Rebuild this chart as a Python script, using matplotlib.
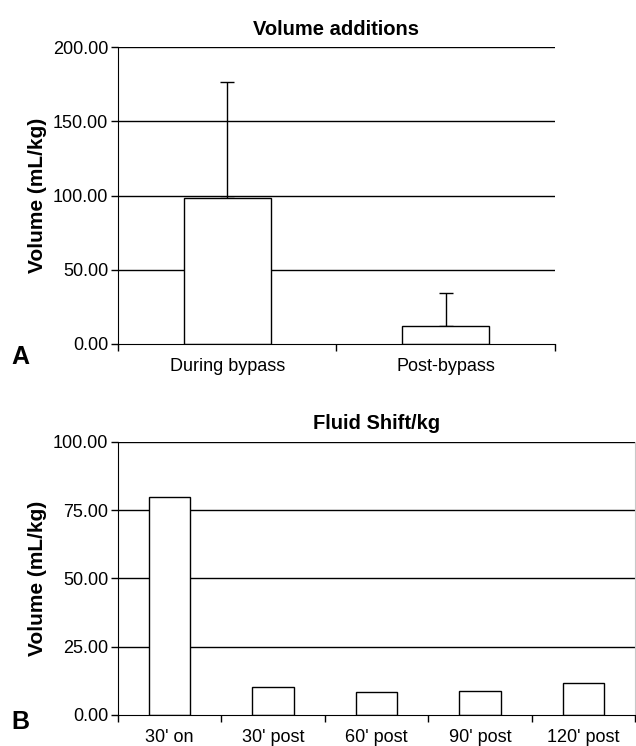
import numpy as np
import matplotlib
matplotlib.use("Agg")
import matplotlib.pyplot as plt

plt.rcParams['font.family'] = ['Liberation Sans', 'DejaVu Sans']

# Panel A data
cats_a = ['During bypass', 'Post-bypass']
vals_a = [98.2, 11.9]
sd_a = [78.2, 22.7]
yticks_a = [0, 50, 100, 150, 200]

# Panel B data
cats_b = ["30' on", "30' post", "60' post", "90' post", "120' post"]
vals_b = [79.8, 10.4, 8.3, 8.8, 11.8]
yticks_b = [0, 25, 50, 75, 100]

fig = plt.figure(figsize=(6.36, 7.46), dpi=100)
ax_a = fig.add_axes([0.1855, 0.5389, 0.687, 0.398])
ax_b = fig.add_axes([0.1855, 0.0416, 0.8135, 0.366])


def style_axes(ax, cats, ticks, ymax):
    n = len(cats)
    ax.set_xlim(0, n)
    ax.set_ylim(0, ymax)
    ax.set_yticks(ticks)
    ax.set_yticklabels(['%.2f' % t for t in ticks], fontsize=13)
    ax.set_xticks(np.arange(n + 1))
    ax.set_xticklabels([])
    ax.set_xticks(np.arange(n) + 0.5, minor=True)
    ax.set_xticklabels(cats, minor=True, fontsize=13)
    ax.tick_params(axis='x', which='major', direction='out', length=5, width=1)
    ax.tick_params(axis='x', which='minor', length=0, pad=10)
    ax.tick_params(axis='y', direction='out', length=5, width=1, pad=2)
    for t in ticks[1:]:
        ax.axhline(t, color='black', lw=1, zorder=0)
    ax.spines['top'].set_visible(False)
    ax.spines['right'].set_visible(False)
    ax.set_ylabel('Volume (mL/kg)', fontsize=15, fontweight='bold', labelpad=4)


x_a = np.arange(len(cats_a)) + 0.5
ax_a.bar(x_a, vals_a, width=0.4, color='white', edgecolor='black', lw=1, zorder=2)
ax_a.errorbar(x_a, vals_a, yerr=[np.zeros(len(sd_a)), sd_a], fmt='none',
              ecolor='black', elinewidth=1, capsize=5, capthick=1, zorder=1)
style_axes(ax_a, cats_a, yticks_a, 200)
ax_a.set_title('Volume additions', fontsize=14.5, fontweight='bold', pad=9)

x_b = np.arange(len(cats_b)) + 0.5
ax_b.bar(x_b, vals_b, width=0.4, color='white', edgecolor='black', lw=1, zorder=2)
style_axes(ax_b, cats_b, yticks_b, 100)
ax_b.set_title('Fluid Shift/kg', fontsize=14.5, fontweight='bold', pad=9)
ax_b.spines['right'].set_visible(True)
ax_b.spines['right'].set_color('#c8c8c8')

fig.text(0.018, 0.521, 'A', fontsize=18, fontweight='bold', va='center')
fig.text(0.018, 0.032, 'B', fontsize=18, fontweight='bold', va='center')

fig.savefig('out.png', dpi=100)
